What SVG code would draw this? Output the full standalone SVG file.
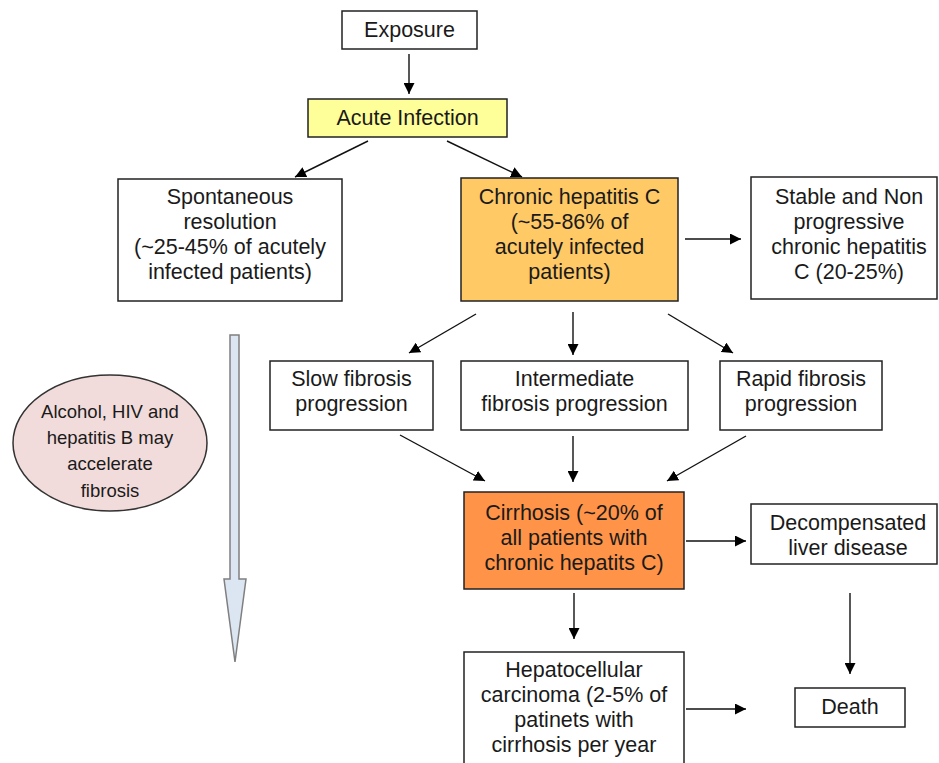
<svg xmlns="http://www.w3.org/2000/svg" width="939" height="763" viewBox="0 0 939 763">
<defs>
<marker id="ah" viewBox="0 0 10 10" refX="10" refY="5" markerWidth="11" markerHeight="11" markerUnits="userSpaceOnUse" orient="auto">
<path d="M0,0 L10,5 L0,10 z" fill="#000"/>
</marker>
</defs>
<style>
.box{stroke:#222;stroke-width:1.5;fill:#fff}
.t{font-family:"Liberation Sans",Arial,sans-serif;font-size:21.5px;fill:#1a1a1a;text-anchor:middle}
.s{font-family:"Liberation Sans",Arial,sans-serif;font-size:18.5px;fill:#1a1a1a;text-anchor:middle}
.c{stroke:#111;stroke-width:1.4;fill:none;marker-end:url(#ah)}
</style>
<rect width="939" height="763" fill="#fff"/>
<g id="connectors">
<line class="c" x1="409" y1="54" x2="409" y2="94"/>
<line class="c" x1="368" y1="141" x2="295" y2="177"/>
<line class="c" x1="447" y1="141" x2="522" y2="177"/>
<line class="c" x1="685" y1="239" x2="741" y2="239"/>
<line class="c" x1="476" y1="314" x2="409" y2="353"/>
<line class="c" x1="573" y1="312" x2="573" y2="355"/>
<line class="c" x1="668" y1="314" x2="733" y2="353"/>
<line class="c" x1="400" y1="435" x2="485" y2="481"/>
<line class="c" x1="573" y1="436" x2="573" y2="482"/>
<line class="c" x1="746" y1="436" x2="667" y2="481"/>
<line class="c" x1="686" y1="541" x2="746" y2="541"/>
<line class="c" x1="574" y1="593" x2="574" y2="639"/>
<line class="c" x1="686" y1="709" x2="746" y2="709"/>
<line class="c" x1="850" y1="593" x2="850" y2="674"/>
</g>
<g id="timeline-arrow">
<path d="M230,335 L239,335 L239,579 L246,579 L235,662 L224,579 L230,579 Z" fill="#dce6f2" stroke="#7f7f7f" stroke-width="1.5"/>
</g>
<g id="exposure">
<rect class="box" x="342" y="11" width="135" height="38"/>
<text class="t" x="409.5" y="37">Exposure</text>
</g>
<g id="acute">
<rect class="box" x="308" y="99" width="199" height="38" style="fill:#ffff99"/>
<text class="t" x="407.5" y="125">Acute Infection</text>
</g>
<g id="spontaneous">
<rect class="box" x="118" y="179" width="224" height="122"/>
<text class="t" x="230" y="204">Spontaneous</text>
<text class="t" x="230" y="229">resolution</text>
<text class="t" x="230" y="254">(~25-45% of acutely</text>
<text class="t" x="230" y="279">infected patients)</text>
</g>
<g id="chronic">
<rect class="box" x="461" y="178" width="217" height="123" style="fill:#ffc966"/>
<text class="t" x="569.5" y="204">Chronic hepatitis C</text>
<text class="t" x="569.5" y="229">(~55-86% of</text>
<text class="t" x="569.5" y="254">acutely infected</text>
<text class="t" x="569.5" y="279">patients)</text>
</g>
<g id="stable">
<rect class="box" x="751" y="177" width="186" height="122"/>
<text class="t" x="849" y="204">Stable and Non</text>
<text class="t" x="849" y="229">progressive</text>
<text class="t" x="849" y="254">chronic hepatitis</text>
<text class="t" x="849" y="279">C (20-25%)</text>
</g>
<g id="slow">
<rect class="box" x="270" y="361" width="163" height="69"/>
<text class="t" x="351.5" y="386">Slow fibrosis</text>
<text class="t" x="351.5" y="411">progression</text>
</g>
<g id="intermediate">
<rect class="box" x="461" y="361" width="227" height="69"/>
<text class="t" x="574.5" y="386">Intermediate</text>
<text class="t" x="574.5" y="411">fibrosis progression</text>
</g>
<g id="rapid">
<rect class="box" x="720" y="361" width="162" height="69"/>
<text class="t" x="801" y="386">Rapid fibrosis</text>
<text class="t" x="801" y="411">progression</text>
</g>
<g id="cofactors">
<ellipse cx="110" cy="443" rx="97" ry="68" fill="#f2dcdb" stroke="#333" stroke-width="1.5"/>
<text class="s" x="110" y="418">Alcohol, HIV and</text>
<text class="s" x="110" y="444">hepatitis B may</text>
<text class="s" x="110" y="470">accelerate</text>
<text class="s" x="110" y="497">fibrosis</text>
</g>
<g id="cirrhosis">
<rect class="box" x="464" y="492" width="220" height="97" style="fill:#ff9448"/>
<text class="t" x="574" y="520">Cirrhosis (~20% of</text>
<text class="t" x="574" y="545">all patients with</text>
<text class="t" x="574" y="570">chronic hepatits C)</text>
</g>
<g id="decompensated">
<rect class="box" x="751" y="504" width="186" height="60"/>
<text class="t" x="848" y="530">Decompensated</text>
<text class="t" x="848" y="555">liver disease</text>
</g>
<g id="hcc">
<rect class="box" x="464" y="652" width="220" height="120"/>
<text class="t" x="574" y="677">Hepatocellular</text>
<text class="t" x="574" y="702">carcinoma (2-5% of</text>
<text class="t" x="574" y="727">patinets with</text>
<text class="t" x="574" y="752">cirrhosis per year</text>
</g>
<g id="death">
<rect class="box" x="795" y="688" width="110" height="39"/>
<text class="t" x="850" y="714">Death</text>
</g>
</svg>
